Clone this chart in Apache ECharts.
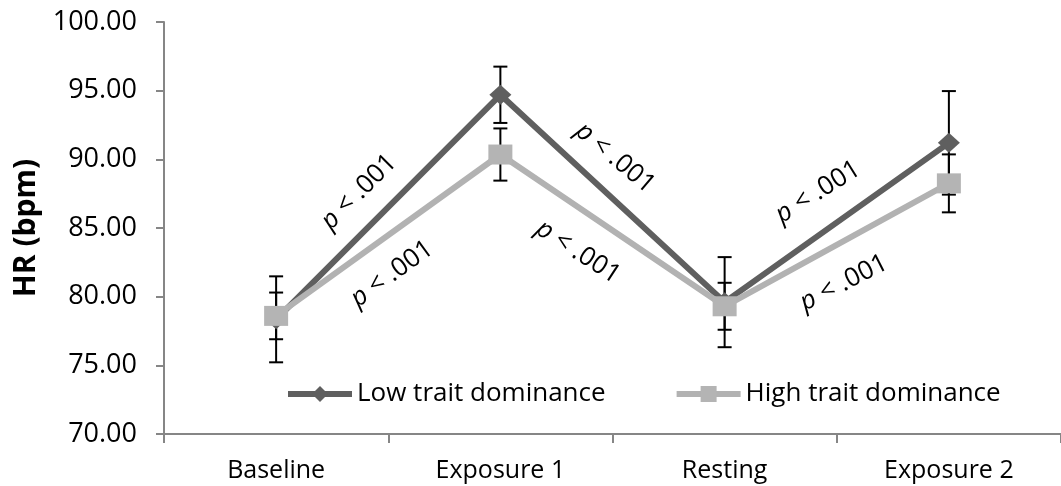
<!DOCTYPE html>
<html>
<head>
<meta charset="utf-8">
<script src="https://cdn.jsdelivr.net/npm/echarts@6/dist/echarts.min.js"></script>
<style>
html,body{margin:0;padding:0;background:#fff;}
#c{width:1061px;height:486px;}
</style>
</head>
<body>
<div id="c"></div>
<script>
const categories = ['Baseline', 'Exposure 1', 'Resting', 'Exposure 2'];
const lowName = 'Low trait dominance';
const highName = 'High trait dominance';
const lowMeans = [78.35, 94.7, 79.6, 91.2];
const lowErr = [3.13, 2.05, 3.28, 3.77];
const highMeans = [78.6, 90.35, 79.3, 88.25];
const highErr = [1.70, 1.9, 1.71, 2.11];
const yMin = 70, yMax = 100, yStep = 5;

const FONT = '"Open Sans", "Liberation Sans", sans-serif';
const AXIS_COLOR = '#868686';
const LOW_COLOR = '#5f5f5f';
const HIGH_COLOR = '#b2b2b2';

function errData(means, errs) {
  return means.map((m, i) => [i, m, errs[i]]);
}

function renderErr(params, api) {
  const i = api.value(0), m = api.value(1), e = api.value(2);
  const top = api.coord([i, m + e]);
  const bot = api.coord([i, m - e]);
  const hw = 7;
  const st = { stroke: '#000', lineWidth: 2 };
  return {
    type: 'group',
    children: [
      { type: 'line', shape: { x1: top[0], y1: top[1], x2: bot[0], y2: bot[1] }, style: st },
      { type: 'line', shape: { x1: top[0] - hw, y1: top[1], x2: top[0] + hw, y2: top[1] }, style: st },
      { type: 'line', shape: { x1: bot[0] - hw, y1: bot[1], x2: bot[0] + hw, y2: bot[1] }, style: st }
    ]
  };
}

const chart = echarts.init(document.getElementById('c'), null, { renderer: 'canvas' });

function ann(x, y, deg) {
  return {
    type: 'text',
    x: x, y: y,
    rotation: deg * Math.PI / 180,
    z: 100,
    style: {
      text: '{i|p} < .001',
      rich: { i: { fontStyle: 'italic', fontFamily: FONT, fontSize: 26, fill: '#000' } },
      fontFamily: FONT, fontSize: 26, fill: '#000',
      align: 'center', verticalAlign: 'middle'
    }
  };
}

chart.setOption({
  animation: false,
  backgroundColor: '#fff',
  grid: { left: 164, top: 22, width: 899, height: 412, containLabel: false },
  xAxis: {
    type: 'category',
    data: categories,
    boundaryGap: true,
    axisLine: { lineStyle: { color: AXIS_COLOR, width: 2 } },
    axisTick: { show: true, interval: 0, length: 9, lineStyle: { color: AXIS_COLOR, width: 2 } },
    axisLabel: { color: '#000', fontFamily: FONT, fontSize: 25, margin: 24, interval: 0 }
  },
  yAxis: {
    type: 'value',
    min: yMin, max: yMax, interval: yStep,
    name: 'HR (bpm)',
    nameLocation: 'middle',
    nameGap: 116,
    nameTextStyle: { color: '#000', fontFamily: FONT, fontSize: 30, fontWeight: 'bold' },
    axisLine: { show: true, lineStyle: { color: AXIS_COLOR, width: 2 } },
    axisTick: { show: true, length: 8, lineStyle: { color: AXIS_COLOR, width: 2 } },
    splitLine: { show: false },
    axisLabel: { color: '#000', fontFamily: FONT, fontSize: 27, margin: 27, formatter: v => v.toFixed(2) }
  },
  legend: {
    left: 280, top: 376,
    itemGap: 68,
    itemWidth: 64, itemHeight: 20,
    lineStyle: { width: 6 },
    textStyle: { color: '#000', fontFamily: FONT, fontSize: 26 },
    data: [lowName, highName]
  },
  series: [
    {
      type: 'custom', name: 'errLow', renderItem: renderErr, data: errData(lowMeans, lowErr), z: 1, silent: true
    },
    {
      type: 'custom', name: 'errHigh', renderItem: renderErr, data: errData(highMeans, highErr), z: 1, silent: true
    },
    {
      type: 'line', name: lowName, data: lowMeans, z: 3,
      symbol: 'diamond', symbolSize: [22, 20],
      lineStyle: { color: LOW_COLOR, width: 6 },
      itemStyle: { color: LOW_COLOR }
    },
    {
      type: 'line', name: highName, data: highMeans, z: 4,
      symbol: 'rect', symbolSize: [24, 20],
      lineStyle: { color: HIGH_COLOR, width: 6 },
      itemStyle: { color: '#b4b4b4' }
    }
  ],
  graphic: [
    ann(359, 192, 45),
    ann(392, 274, 36),
    ann(615, 158, -40),
    ann(578, 252, -33),
    ann(818, 192, 32),
    ann(844, 283, 27)
  ]
});
</script>
</body>
</html>
